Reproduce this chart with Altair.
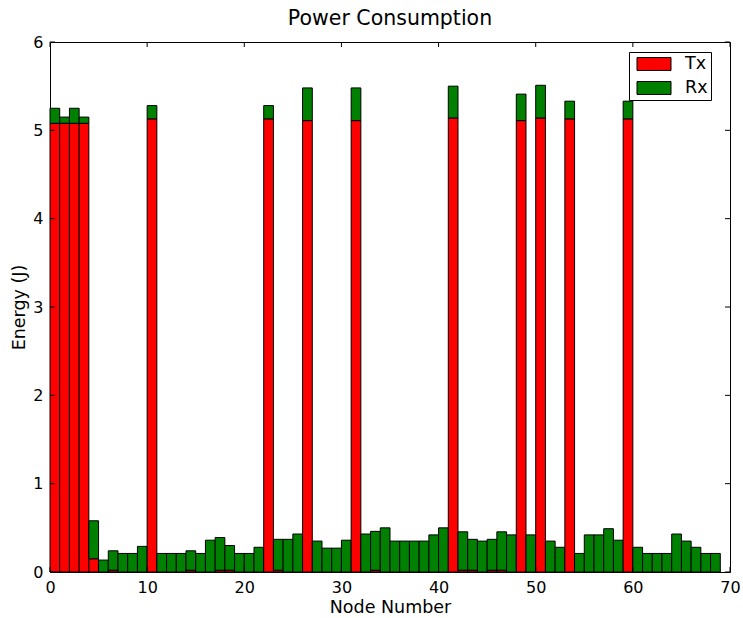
import altair as alt
import pandas as pd

# Per-node energy figures (joules)
nodes = list(range(69))
tx = [5.08, 5.08, 5.08, 5.08, 0.15, 0.0, 0.02, 0.0, 0.0, 0.0,
      5.13, 0.0, 0.0, 0.0, 0.02, 0.0, 0.0, 0.02, 0.02, 0.0,
      0.0, 0.0, 5.13, 0.02, 0.0, 0.0, 5.11, 0.0, 0.0, 0.0,
      0.0, 5.11, 0.0, 0.02, 0.0, 0.0, 0.0, 0.0, 0.0, 0.0,
      0.0, 5.14, 0.02, 0.02, 0.0, 0.02, 0.02, 0.0, 5.11, 0.0,
      5.14, 0.0, 0.0, 5.13, 0.0, 0.0, 0.0, 0.0, 0.0, 5.13,
      0.0, 0.0, 0.0, 0.0, 0.0, 0.0, 0.0, 0.0, 0.0]
rx = [0.17, 0.07, 0.17, 0.07, 0.43, 0.135, 0.22, 0.21, 0.21, 0.29,
      0.15, 0.21, 0.21, 0.21, 0.22, 0.21, 0.36, 0.37, 0.28, 0.21,
      0.21, 0.28, 0.15, 0.35, 0.37, 0.43, 0.37, 0.35, 0.27, 0.27,
      0.36, 0.37, 0.43, 0.44, 0.50, 0.35, 0.35, 0.35, 0.35, 0.42,
      0.50, 0.36, 0.435, 0.35, 0.35, 0.35, 0.435, 0.42, 0.30, 0.42,
      0.37, 0.35, 0.28, 0.20, 0.21, 0.42, 0.42, 0.49, 0.36, 0.20,
      0.28, 0.21, 0.21, 0.21, 0.43, 0.35, 0.28, 0.21, 0.21]
series = ["Tx", "Rx"]
colors = ["#ff0000", "#008000"]
x_ticks = [0, 10, 20, 30, 40, 50, 60, 70]
y_ticks = [0, 1, 2, 3, 4, 5, 6]

FONT = "DejaVu Sans"
W, H = 680, 530

# Long-form table: Tx stacked at the bottom, Rx on top of it
rows = []
for n, t, r in zip(nodes, tx, rx):
    rows.append({"node": n, "node_end": n + 1, "series": "Tx", "lo": 0.0, "hi": t})
    rows.append({"node": n, "node_end": n + 1, "series": "Rx", "lo": t, "hi": t + r})
df = pd.DataFrame(rows)

x_scale = alt.Scale(domain=[0, 70], nice=False, zero=False)
y_scale = alt.Scale(domain=[0, 6], nice=False)

bars = alt.Chart(df).mark_bar(stroke="black", strokeWidth=1, opacity=1).encode(
    x=alt.X("node:Q", scale=x_scale,
            axis=alt.Axis(values=x_ticks, title="Node Number", format="d")),
    x2="node_end:Q",
    y=alt.Y("lo:Q", scale=y_scale,
            axis=alt.Axis(values=y_ticks, title="Energy (J)", format="d")),
    y2="hi:Q",
    color=alt.Color("series:N",
                    scale=alt.Scale(domain=series, range=colors),
                    sort=series,
                    legend=alt.Legend(title=None, orient="none",
                                      legendX=579, legendY=10,
                                      # wide swatch drawn beyond the unit box
                                      symbolType="M-2,-0.76H2V0.76H-2Z",
                                      symbolSize=289,
                                      symbolOffset=13,
                                      symbolStrokeColor="black",
                                      symbolStrokeWidth=1,
                                      labelExpr="datum.label + ' '",
                                      labelFontSize=17.5, labelFont=FONT,
                                      labelColor="black",
                                      labelOffset=22,
                                      rowPadding=6,
                                      padding=3,
                                      strokeColor="black",
                                      fillColor="white")),
)

# Inward tick marks on all four sides
xt = pd.DataFrame({"t": x_ticks})
yt = pd.DataFrame({"t": y_ticks})
tick_style = dict(color="black", strokeWidth=1)
x_bottom = alt.Chart(xt).mark_rule(**tick_style).encode(
    x=alt.X("t:Q", scale=x_scale), y=alt.value(H), y2=alt.value(H - 5))
x_top = alt.Chart(xt).mark_rule(**tick_style).encode(
    x=alt.X("t:Q", scale=x_scale), y=alt.value(0), y2=alt.value(5))
y_left = alt.Chart(yt).mark_rule(**tick_style).encode(
    y=alt.Y("t:Q", scale=y_scale), x=alt.value(0), x2=alt.value(5))
y_right = alt.Chart(yt).mark_rule(**tick_style).encode(
    y=alt.Y("t:Q", scale=y_scale), x=alt.value(W), x2=alt.value(W - 5))

chart = alt.layer(bars, x_bottom, x_top, y_left, y_right).properties(
    width=W, height=H,
    title=alt.TitleParams("Power Consumption", font=FONT, fontSize=20.5,
                          fontWeight="normal", color="black", offset=5),
    padding={"left": 50, "top": 42, "right": 13, "bottom": 46},
    autosize=alt.AutoSizeParams(type="none"),
).configure_view(
    stroke="black", strokeWidth=1
).configure_axis(
    grid=False, domain=False, ticks=False, labelFlush=False,
    labelFont=FONT, labelFontSize=16, labelColor="black", labelPadding=7,
    titleFont=FONT, titleFontSize=17.5, titleFontWeight="normal",
    titleColor="black",
).configure_axisX(
    titlePadding=3,
).configure_axisY(
    titlePadding=4,
)

chart.save("out.html", embed_options={"renderer": "svg", "actions": False})
